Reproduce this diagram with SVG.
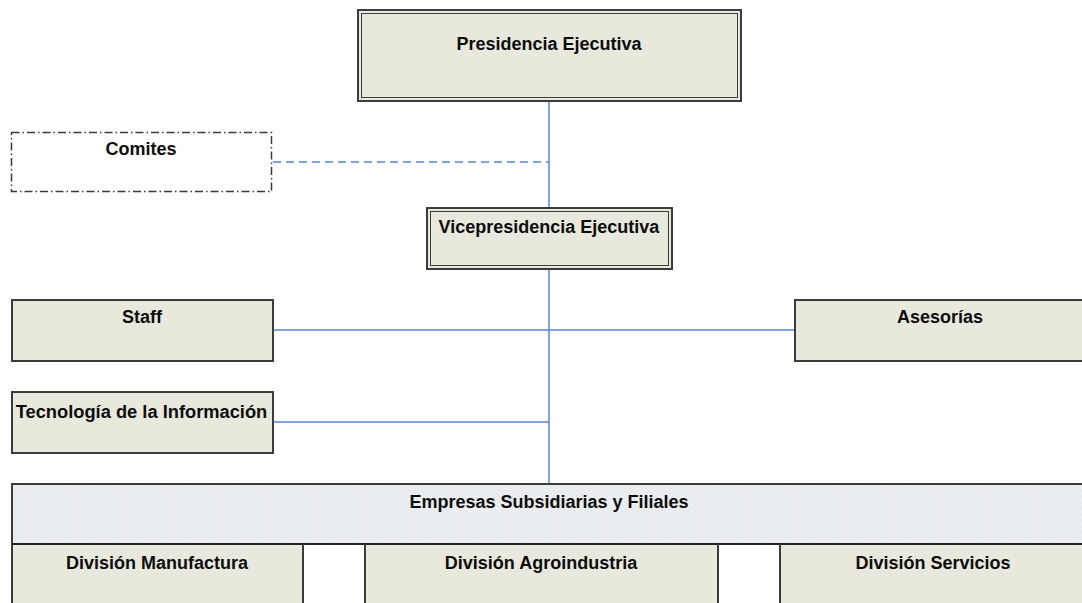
<svg xmlns="http://www.w3.org/2000/svg" width="1082" height="603" viewBox="0 0 1082 603">
  <style>
    .box { fill: #e8e8dd; stroke: #3c3c3c; stroke-width: 2; }
    .inner { fill: none; stroke: #3c3c3c; stroke-width: 1; }
    .lbl { font-family: "Liberation Sans", Arial, sans-serif; font-weight: bold; font-size: 18px; fill: #0d0d0d; text-anchor: middle; }
    .conn { fill: none; stroke: #5a86cf; stroke-width: 1.5; }
    .dashed { stroke-dasharray: 8 5; }
  </style>
  <defs>
    <pattern id="speckle" width="6" height="6" patternUnits="userSpaceOnUse">
      <rect width="6" height="6" fill="#e7ebef"/>
      <rect width="3" height="3" fill="#eceef0"/>
      <rect x="3" y="3" width="3" height="3" fill="#eceef0"/>
    </pattern>
  </defs>
  <rect width="1082" height="603" fill="#ffffff"/>

  <!-- connectors -->
  <g id="connectors">
    <line class="conn" x1="549" y1="101" x2="549" y2="207"/>
    <line class="conn dashed" x1="273" y1="162" x2="549" y2="162"/>
    <line class="conn" x1="549" y1="269" x2="549" y2="483"/>
    <line class="conn" x1="273" y1="330" x2="795" y2="330"/>
    <line class="conn" x1="273" y1="422" x2="549" y2="422"/>
  </g>

  <g id="presidencia">
    <rect class="box" x="358" y="10" width="383" height="91"/>
    <rect class="inner" x="361.5" y="13.5" width="376" height="84"/>
    <text class="lbl" x="549" y="50">Presidencia Ejecutiva</text>
  </g>

  <g id="comites">
    <rect x="11.5" y="132.5" width="260" height="59" fill="#ffffff" stroke="#3a3a3a" stroke-width="1.5" stroke-dasharray="8 3 1.5 3"/>
    <text class="lbl" x="141" y="155">Comites</text>
  </g>

  <g id="vicepresidencia">
    <rect class="box" x="427" y="208" width="245" height="61"/>
    <rect class="inner" x="430.5" y="211.5" width="238" height="54"/>
    <text class="lbl" x="549" y="233">Vicepresidencia Ejecutiva</text>
  </g>

  <g id="staff">
    <rect class="box" x="12" y="300" width="261" height="61"/>
    <text class="lbl" x="142" y="323">Staff</text>
  </g>

  <g id="asesorias">
    <rect class="box" x="795" y="300" width="295" height="61"/>
    <text class="lbl" x="940" y="323">Asesorías</text>
  </g>

  <g id="tecnologia">
    <rect class="box" x="12" y="392" width="261" height="61"/>
    <text class="lbl" x="141.5" y="418" style="font-size:18.3px">Tecnología de la Información</text>
  </g>

  <g id="empresas">
    <rect x="12" y="484" width="1080" height="130" fill="#ffffff" stroke="#3c3c3c" stroke-width="2"/>
    <rect x="13" y="485" width="1078" height="59" fill="url(#speckle)"/>
    <text class="lbl" x="549" y="508">Empresas Subsidiarias y Filiales</text>
    <line x1="12" y1="544" x2="1092" y2="544" stroke="#222" stroke-width="2"/>
  </g>

  <g id="division-manufactura">
    <rect x="13" y="545" width="290" height="60" fill="#e8e8dd"/>
    <line x1="303" y1="544" x2="303" y2="605" stroke="#3c3c3c" stroke-width="2"/>
    <text class="lbl" x="157" y="569">División Manufactura</text>
  </g>

  <g id="division-agroindustria">
    <rect x="365" y="545" width="353" height="60" fill="#e8e8dd"/>
    <line x1="365" y1="544" x2="365" y2="605" stroke="#3c3c3c" stroke-width="2"/>
    <line x1="718" y1="544" x2="718" y2="605" stroke="#3c3c3c" stroke-width="2"/>
    <text class="lbl" x="541" y="569">División Agroindustria</text>
  </g>

  <g id="division-servicios">
    <rect x="780" y="545" width="310" height="60" fill="#e8e8dd"/>
    <line x1="780" y1="544" x2="780" y2="605" stroke="#3c3c3c" stroke-width="2"/>
    <text class="lbl" x="933" y="569">División Servicios</text>
  </g>
</svg>
